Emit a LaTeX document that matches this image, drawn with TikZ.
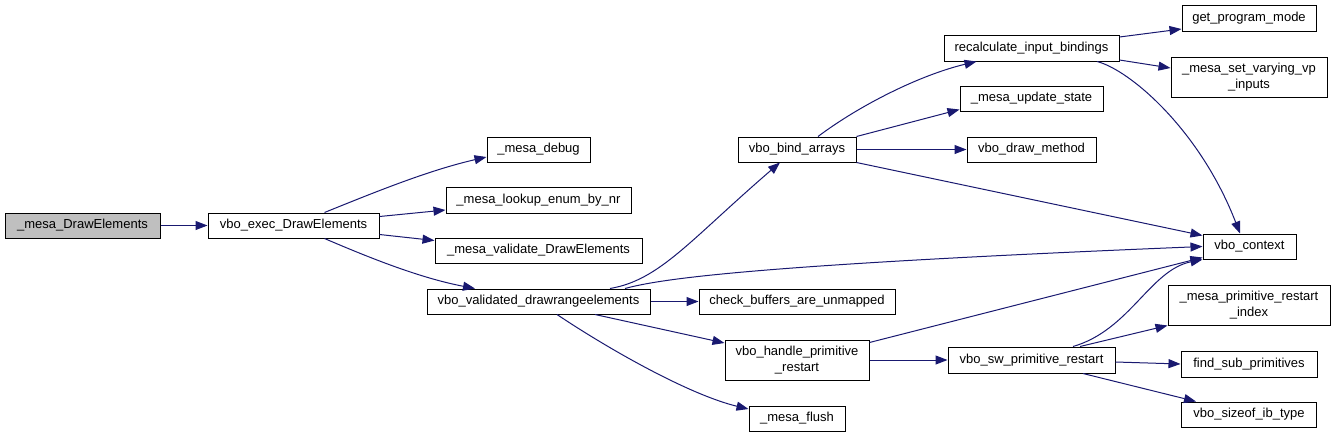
\documentclass[tikz,border=0pt]{standalone}
\usepackage{fontspec}
\setmainfont{Liberation Sans}
\usetikzlibrary{arrows.meta}

\definecolor{edgeblue}{HTML}{191970}

\begin{document}
\begin{tikzpicture}[x=1pt, y=-1pt,
		fn/.style={draw=black, line width=1pt, inner sep=0pt, align=center,
			font=\fontsize{13}{15.5}\selectfont},
		call/.style={draw=edgeblue, line width=1pt,
			-{Triangle[length=12pt, width=9pt]}}]
		\useasboundingbox (0, 0) rectangle (1336, 437);
		
		% left part
		\node[fn, fill=black!25, minimum width=155pt, minimum height=25pt] (root) at (82.5, 225.5) {\_mesa\_DrawElements};
		\node[fn, minimum width=171pt, minimum height=25pt] (exec) at (293.5, 225.5) {vbo\_exec\_DrawElements};
		\node[fn, minimum width=103pt, minimum height=25pt] (debug) at (538.5, 149.5) {\_mesa\_debug};
		\node[fn, minimum width=185pt, minimum height=26pt] (lookup) at (538.5, 200) {\_mesa\_lookup\_enum\_by\_nr};
		\node[fn, minimum width=207pt, minimum height=25pt] (valde) at (538.5, 250.5) {\_mesa\_validate\_DrawElements};
		\node[fn, minimum width=223pt, minimum height=25pt] (vdre) at (538.5, 301.5) {vbo\_validated\_drawrangeelements};
		
		% middle part
		\node[fn, minimum width=118pt, minimum height=25pt] (bind) at (797, 149.5) {vbo\_bind\_arrays};
		\node[fn, minimum width=196pt, minimum height=25pt] (cbau) at (797, 301.5) {check\_buffers\_are\_unmapped};
		\node[fn, minimum width=144pt, minimum height=40pt] (hpr) at (797, 360) {vbo\_handle\_primitive\\\_restart};
		\node[fn, minimum width=96pt, minimum height=25pt] (flush) at (797, 418.5) {\_mesa\_flush};
		\node[fn, minimum width=175pt, minimum height=26pt] (recalc) at (1031.5, 48) {recalculate\_input\_bindings};
		\node[fn, minimum width=143pt, minimum height=25pt] (upd) at (1031.5, 98.5) {\_mesa\_update\_state};
		\node[fn, minimum width=129pt, minimum height=25pt] (dmeth) at (1031.5, 149.5) {vbo\_draw\_method};
		\node[fn, minimum width=167pt, minimum height=26pt] (swpr) at (1031.5, 360) {vbo\_sw\_primitive\_restart};
		
		% right part
		\node[fn, minimum width=134pt, minimum height=26pt] (gpm) at (1249, 18) {get\_program\_mode};
		\node[fn, minimum width=156pt, minimum height=40pt] (svvi) at (1249, 77) {\_mesa\_set\_varying\_vp\\\_inputs};
		\node[fn, minimum width=93pt, minimum height=25pt] (ctx) at (1249.5, 246.5) {vbo\_context};
		\node[fn, minimum width=162pt, minimum height=40pt] (pri) at (1249, 305) {\_mesa\_primitive\_restart\\\_index};
		\node[fn, minimum width=136pt, minimum height=26pt] (fsp) at (1249, 364) {find\_sub\_primitives};
		\node[fn, minimum width=135pt, minimum height=25pt] (sib) at (1249, 414.5) {vbo\_sizeof\_ib\_type};
		
		% calls
		\draw[call] (root) -- (exec);
		\draw[call] ([xshift=31pt]exec.north) .. controls (380, 190) and (430, 170) .. ([yshift=-7.5pt]debug.west);
		\draw[call] ([yshift=9pt]exec.east) -- ([yshift=-10pt]lookup.west);
		\draw[call] ([yshift=-9pt]exec.east) -- ([yshift=10pt]valde.west);
		\draw[call] ([xshift=31pt]exec.south) .. controls (370, 258) and (420, 278) .. ([xshift=-63.5pt]vdre.north);
		
		\draw[call] ([xshift=71.5pt]vdre.north) .. controls (660, 280) and (690, 240) .. ([xshift=-17pt]bind.south);
		\draw[call] ([xshift=86.5pt]vdre.north) .. controls (660, 279) and (750, 265) .. (ctx.west);
		\draw[call] (vdre) -- (cbau);
		\draw[call] ([xshift=56.5pt]vdre.south) -- ([yshift=17pt]hpr.west);
		\draw[call] ([xshift=18.5pt]vdre.south) .. controls (610, 350) and (690, 395) .. ([yshift=9.5pt]flush.west);
		
		\draw[call] ([xshift=21pt]bind.north) .. controls (860, 105) and (920, 75) .. ([xshift=-55pt]recalc.south);
		\draw[call] (bind.north east) -- ([yshift=2pt]upd.south west);
		\draw[call] (bind) -- (dmeth);
		\draw[call] (bind.south east) -- ([yshift=-2pt]ctx.north west);
		
		\draw[call] ([yshift=11pt]recalc.east) -- ([yshift=-11pt]gpm.west);
		\draw[call] ([yshift=-12pt]recalc.east) -- ([yshift=9pt]svvi.west);
		\draw[call] ([xshift=65.5pt]recalc.south) .. controls (1130, 70) and (1200, 130) .. ([xshift=-9.5pt]ctx.north);
		
		\draw[call] ([yshift=-3pt]hpr.north east) -- ([yshift=2pt]ctx.south west);
		\draw[call] (hpr) -- (swpr);
		\draw[call] ([xshift=41.5pt]swpr.north) .. controls (1130, 330) and (1150, 270) .. (ctx.south west);
		\draw[call] ([xshift=48.5pt]swpr.north) -- (pri.south west);
		\draw[call] ([yshift=-2pt]swpr.east) -- (fsp.west);
		\draw[call] ([xshift=51.5pt]swpr.south) -- ([xshift=-53pt]sib.north);
	\end{tikzpicture}
\end{document}
